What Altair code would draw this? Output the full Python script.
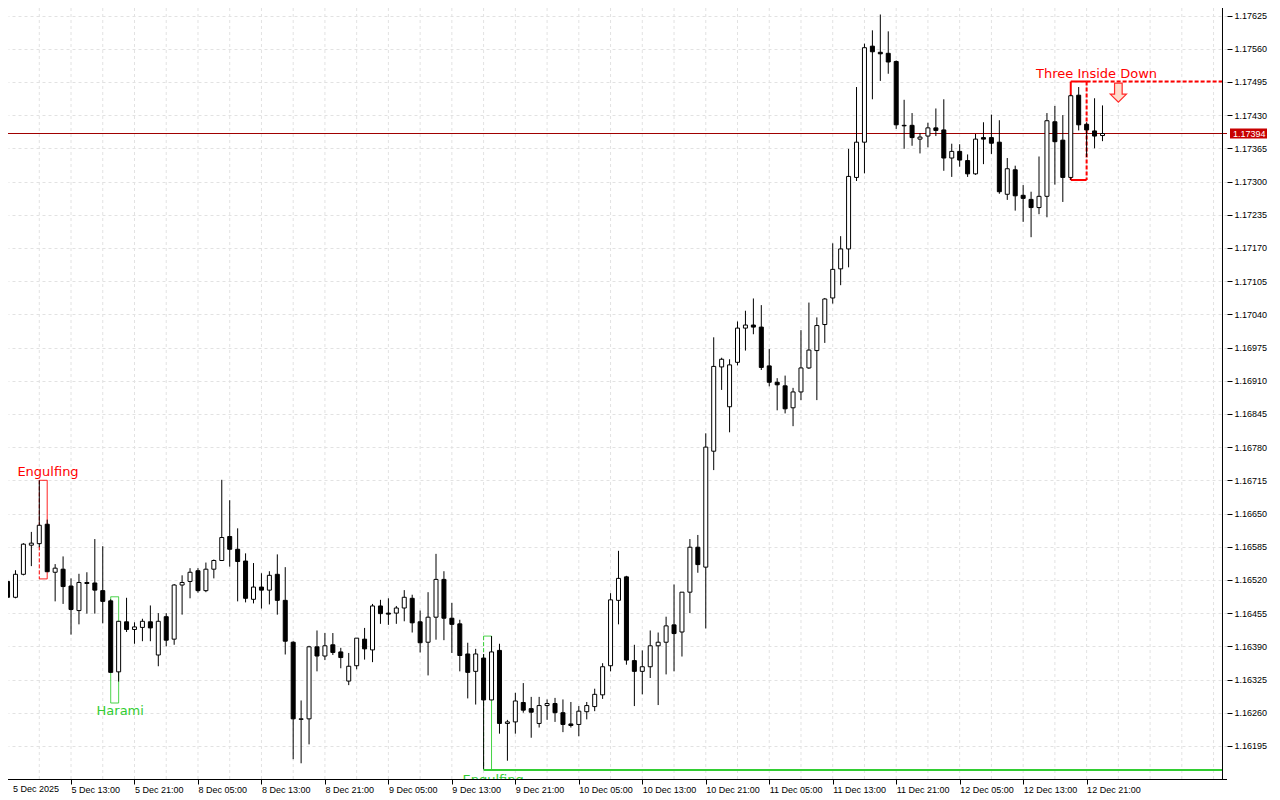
import json
import altair as alt
import pandas as pd

# ---------------- data (EURUSD H1) ----------------
opens = [1.16517, 1.16486, 1.16531, 1.16588, 1.16591, 1.16629, 1.16535, 1.16541, 1.16508, 1.16460,
         1.16515, 1.16514, 1.16499, 1.16479, 1.16340, 1.16438, 1.16423, 1.16427, 1.16438, 1.16373,
         1.16448, 1.16404, 1.16510, 1.16517, 1.16538, 1.16499, 1.16541, 1.16558, 1.16605, 1.16580,
         1.16557, 1.16482, 1.16506, 1.16500, 1.16531, 1.16480, 1.16398, 1.16247, 1.16248, 1.16389,
         1.16371, 1.16393, 1.16379, 1.16322, 1.16352, 1.16404, 1.16383, 1.16469, 1.16455, 1.16455,
         1.16465, 1.16484, 1.16438, 1.16398, 1.16447, 1.16521, 1.16445, 1.16434, 1.16375, 1.16341,
         1.16367, 1.16285, 1.16382, 1.16239, 1.16242, 1.16280, 1.16268, 1.16239, 1.16274, 1.16278,
         1.16260, 1.16238, 1.16237, 1.16262, 1.16272, 1.16295, 1.16352, 1.16480, 1.16526, 1.16362,
         1.16341, 1.16350, 1.16391, 1.16398, 1.16432, 1.16418, 1.16496, 1.16584, 1.16545, 1.16772,
         1.16937, 1.16859, 1.16946, 1.17013, 1.17019, 1.17015, 1.16939, 1.16907, 1.16900, 1.16857,
         1.16888, 1.16935, 1.16969, 1.17020, 1.17072, 1.17129, 1.17168, 1.17308, 1.17377, 1.17565,
         1.17553, 1.17551, 1.17535, 1.17410, 1.17410, 1.17383, 1.17389, 1.17405, 1.17401, 1.17346,
         1.17359, 1.17341, 1.17315, 1.17386, 1.17386, 1.17377, 1.17275, 1.17323, 1.17273, 1.17265,
         1.17249, 1.17271, 1.17417, 1.17381, 1.17308, 1.17469, 1.17412, 1.17399, 1.17390]
highs = [1.16522, 1.16539, 1.16592, 1.16614, 1.16715, 1.16638, 1.16551, 1.16566, 1.16523, 1.16532,
         1.16535, 1.16600, 1.16586, 1.16482, 1.16439, 1.16485, 1.16437, 1.16444, 1.16470, 1.16455,
         1.16455, 1.16512, 1.16529, 1.16543, 1.16543, 1.16554, 1.16560, 1.16716, 1.16676, 1.16621,
         1.16572, 1.16553, 1.16533, 1.16537, 1.16570, 1.16545, 1.16400, 1.16284, 1.16391, 1.16421,
         1.16416, 1.16416, 1.16387, 1.16377, 1.16406, 1.16426, 1.16473, 1.16481, 1.16484, 1.16469,
         1.16500, 1.16491, 1.16460, 1.16496, 1.16571, 1.16537, 1.16475, 1.16442, 1.16397, 1.16385,
         1.16375, 1.16410, 1.16395, 1.16246, 1.16299, 1.16318, 1.16291, 1.16291, 1.16286, 1.16289,
         1.16286, 1.16281, 1.16273, 1.16281, 1.16307, 1.16357, 1.16494, 1.16577, 1.16528, 1.16393,
         1.16382, 1.16421, 1.16417, 1.16448, 1.16511, 1.16496, 1.16600, 1.16608, 1.16807, 1.16995,
         1.16955, 1.16952, 1.17026, 1.17047, 1.17071, 1.17058, 1.16972, 1.16915, 1.16920, 1.16896,
         1.17009, 1.17063, 1.17034, 1.17072, 1.17179, 1.17193, 1.17364, 1.17485, 1.17570, 1.17596,
         1.17627, 1.17594, 1.17537, 1.17460, 1.17434, 1.17395, 1.17415, 1.17443, 1.17461, 1.17374,
         1.17373, 1.17353, 1.17393, 1.17416, 1.17431, 1.17420, 1.17346, 1.17331, 1.17293, 1.17280,
         1.17349, 1.17434, 1.17448, 1.17430, 1.17470, 1.17485, 1.17416, 1.17463, 1.17449]
lows = [1.16484, 1.16484, 1.16529, 1.16547, 1.16584, 1.16536, 1.16478, 1.16473, 1.16413, 1.16433,
        1.16454, 1.16454, 1.16435, 1.16339, 1.16321, 1.16418, 1.16395, 1.16400, 1.16400, 1.16351,
        1.16390, 1.16393, 1.16452, 1.16484, 1.16495, 1.16496, 1.16523, 1.16557, 1.16546, 1.16478,
        1.16476, 1.16474, 1.16464, 1.16472, 1.16452, 1.16374, 1.16169, 1.16161, 1.16198, 1.16341,
        1.16363, 1.16373, 1.16347, 1.16314, 1.16345, 1.16364, 1.16359, 1.16434, 1.16432, 1.16434,
        1.16439, 1.16417, 1.16378, 1.16333, 1.16403, 1.16402, 1.16377, 1.16341, 1.16288, 1.16276,
        1.16150, 1.16285, 1.16219, 1.16166, 1.16219, 1.16260, 1.16211, 1.16231, 1.16246, 1.16242,
        1.16222, 1.16231, 1.16214, 1.16247, 1.16263, 1.16287, 1.16341, 1.16433, 1.16354, 1.16273,
        1.16296, 1.16328, 1.16275, 1.16335, 1.16341, 1.16370, 1.16455, 1.16534, 1.16425, 1.16735,
        1.16892, 1.16809, 1.16940, 1.16969, 1.17001, 1.16931, 1.16899, 1.16852, 1.16846, 1.16821,
        1.16872, 1.16933, 1.16872, 1.16984, 1.17061, 1.17097, 1.17132, 1.17301, 1.17316, 1.17461,
        1.17497, 1.17511, 1.17403, 1.17364, 1.17370, 1.17355, 1.17367, 1.17389, 1.17321, 1.17309,
        1.17329, 1.17309, 1.17313, 1.17334, 1.17354, 1.17276, 1.17264, 1.17243, 1.17221, 1.17191,
        1.17236, 1.17230, 1.17294, 1.17260, 1.17303, 1.17400, 1.17348, 1.17365, 1.17379]
closes = [1.16486, 1.16531, 1.16590, 1.16592, 1.16627, 1.16536, 1.16543, 1.16507, 1.16462, 1.16515,
          1.16513, 1.16500, 1.16478, 1.16339, 1.16439, 1.16423, 1.16428, 1.16439, 1.16426, 1.16439,
          1.16402, 1.16510, 1.16515, 1.16535, 1.16499, 1.16541, 1.16558, 1.16603, 1.16580, 1.16556,
          1.16484, 1.16506, 1.16500, 1.16529, 1.16480, 1.16400, 1.16248, 1.16248, 1.16389, 1.16371,
          1.16391, 1.16378, 1.16368, 1.16351, 1.16406, 1.16385, 1.16469, 1.16454, 1.16453, 1.16465,
          1.16486, 1.16436, 1.16397, 1.16447, 1.16521, 1.16445, 1.16433, 1.16372, 1.16339, 1.16375,
          1.16285, 1.16379, 1.16239, 1.16242, 1.16283, 1.16265, 1.16261, 1.16274, 1.16278, 1.16260,
          1.16237, 1.16235, 1.16263, 1.16274, 1.16296, 1.16350, 1.16481, 1.16523, 1.16363, 1.16341,
          1.16350, 1.16391, 1.16398, 1.16430, 1.16415, 1.16496, 1.16584, 1.16550, 1.16780, 1.16938,
          1.16952, 1.16941, 1.17013, 1.17019, 1.17015, 1.16936, 1.16907, 1.16902, 1.16855, 1.16888,
          1.16935, 1.16970, 1.17018, 1.17070, 1.17128, 1.17168, 1.17310, 1.17377, 1.17562, 1.17554,
          1.17550, 1.17534, 1.17411, 1.17409, 1.17386, 1.17387, 1.17405, 1.17400, 1.17346, 1.17359,
          1.17342, 1.17315, 1.17383, 1.17383, 1.17375, 1.17280, 1.17325, 1.17272, 1.17267, 1.17249,
          1.17271, 1.17419, 1.17378, 1.17308, 1.17468, 1.17411, 1.17401, 1.17389, 1.17394]

time_labels = ["5 Dec 2025", "5 Dec 13:00", "5 Dec 21:00", "8 Dec 05:00", "8 Dec 13:00",
               "8 Dec 21:00", "9 Dec 05:00", "9 Dec 13:00", "9 Dec 21:00", "10 Dec 05:00",
               "10 Dec 13:00", "10 Dec 21:00", "11 Dec 05:00", "11 Dec 13:00", "11 Dec 21:00",
               "12 Dec 05:00", "12 Dec 13:00", "12 Dec 21:00"]
time_tick_bars = [0, 8, 16, 24, 32, 40, 48, 56, 64, 72, 80, 88, 96, 104, 112, 120, 128, 136]
grid_bars = [4, 8, 12, 16, 20, 24, 28, 32, 36, 40, 44, 48, 52, 56, 60, 64, 68, 72, 76, 80,
             84, 88, 92, 96, 100, 104, 108, 112, 116, 120, 124, 128, 132, 136, 140, 144, 148, 152]
price_ticks = [1.16195, 1.16260, 1.16325, 1.16390, 1.16455, 1.16520, 1.16585, 1.16650,
               1.16715, 1.16780, 1.16845, 1.16910, 1.16975, 1.17040, 1.17105, 1.17170,
               1.17235, 1.17300, 1.17365, 1.17430, 1.17495, 1.17560, 1.17625]
last_price = 1.17394

# pattern annotations (bar index / price)
pat_names = ["Engulfing", "Harami", "Engulfing", "Three Inside Down"]
pat_colors = ["#ff0000", "#32cd32", "#32cd32", "#ff0000"]
pat_text_bar = [5.1, 14.2, 61.2, 137.25]
pat_text_price = [1.16723, 1.16256, 1.16121, 1.17503]

# ---------------- layout ----------------
W, H = 1219, 771
X_MIN = 0.6875            # bar index at the left edge of the plot
X_MAX = X_MIN + W / 8     # 8 px per hourly bar
Y_MAX = 1.1763971
Y_MIN = 1.1613023

RED, GREEN = "#ff0000", "#32cd32"
seg_rows = [
    # x1, x2, y1, y2, color, dash, width
    (4, 5, 1.16715, 1.16715, RED, "solid", 1),
    (4, 5, 1.16522, 1.16522, RED, "solid", 1),
    (4, 4, 1.16715, 1.16522, RED, "dash", 1),
    (5, 5, 1.16715, 1.16522, RED, "solid", 1),
    (13, 14, 1.16487, 1.16487, GREEN, "solid", 1),
    (13, 14, 1.16279, 1.16279, GREEN, "solid", 1),
    (13, 13, 1.16487, 1.16279, GREEN, "solid", 1),
    (14, 14, 1.16487, 1.16279, GREEN, "solid", 1),
    (60, 61, 1.16410, 1.16410, GREEN, "solid", 1),
    (60, 60, 1.16410, 1.16148, GREEN, "dash", 1),
    (61, 61, 1.16410, 1.16148, GREEN, "solid", 1),
    (60, X_MAX, 1.16148, 1.16148, GREEN, "solid", 2),
    (134, 136, 1.17496, 1.17496, RED, "solid", 2),
    (136, X_MAX, 1.17496, 1.17496, RED, "dash", 2),
    (134, 134, 1.17496, 1.17303, RED, "solid", 2),
    (136, 136, 1.17496, 1.17303, RED, "dash", 2),
    (134, 136, 1.17303, 1.17303, RED, "solid", 2),
]
seg_df = pd.DataFrame(seg_rows, columns=["x1", "x2", "y1", "y2", "color", "dash", "width"])

df = pd.DataFrame({"k": list(range(len(opens))), "open": opens, "high": highs,
                   "low": lows, "close": closes})
df["dir"] = ["up" if c >= o else "down" for o, c in zip(opens, closes)]

xscale = alt.Scale(domain=[X_MIN, X_MAX], nice=False, zero=False)
yscale = alt.Scale(domain=[Y_MIN, Y_MAX], nice=False, zero=False)

FONT = "Liberation Sans"
label_expr = json.dumps(time_labels) + "[round(datum.value / 8)]"
xaxis = alt.Axis(values=time_tick_bars[1:], labelExpr=label_expr, grid=False, domain=False,
                 ticks=True, tickSize=5, tickColor="black", labelAlign="left",
                 labelBaseline="top", labelPadding=1, labelFont=FONT,
                 labelFontSize=9, labelColor="black", labelFlush=False, labelOverlap=False,
                 title=None)
yaxis = alt.Axis(orient="right", values=price_ticks, format=".5f", grid=True,
                 gridColor="#e2e2e2", gridDash=[3, 3], gridWidth=1, domain=False,
                 tickSize=5, tickColor="black", labelPadding=2, labelFont=FONT,
                 labelFontSize=9, labelColor="black", labelOverlap=False, labelFlush=False,
                 title=None)

X = lambda f: alt.X(f, scale=xscale, axis=xaxis)
Y = lambda f: alt.Y(f, scale=yscale, axis=yaxis)

vgrid = alt.Chart(pd.DataFrame({"k": grid_bars})).mark_rule(
    color="#e2e2e2", strokeDash=[3, 3], strokeWidth=1, clip=True).encode(x=X("k:Q"))

segs = alt.Chart(seg_df).mark_rule(clip=True, strokeCap="butt").encode(
    x=X("x1:Q"), x2="x2:Q", y=Y("y1:Q"), y2="y2:Q",
    color=alt.Color("color:N", scale=None),
    strokeDash=alt.StrokeDash("dash:N", scale=alt.Scale(domain=["solid", "dash"],
                                                        range=[[1, 0], [4, 2]]), legend=None),
    strokeWidth=alt.StrokeWidth("width:Q", scale=None))

pline = alt.Chart(pd.DataFrame({"p": [last_price]})).mark_rule(
    color="#a00000", strokeWidth=1).encode(y=Y("p:Q"))

base = alt.Chart(df)
wicks = base.mark_rule(color="black", strokeWidth=1, clip=True).encode(
    x=X("k:Q"), y=Y("low:Q"), y2="high:Q")
bodies = base.mark_bar(width=4, stroke="black", strokeWidth=1, clip=True).encode(
    x=X("k:Q"), y=Y("open:Q"), y2="close:Q",
    fill=alt.Fill("dir:N", scale=alt.Scale(domain=["up", "down"], range=["white", "black"]),
                  legend=None))

ARROW = "M -0.4 -1 L 0.4 -1 L 0.4 0.15 L 0.85 0.15 L 0 1 L -0.85 0.15 L -0.4 0.15 Z"
arrow = alt.Chart(pd.DataFrame({"k": [140.0], "p": [1.17474]})).mark_point(
    shape=ARROW, size=361, filled=True, fill="#ffdccc", stroke="#ff2a2a",
    strokeWidth=1.2, opacity=1).encode(x=X("k:Q"), y=Y("p:Q"))

txt_df = pd.DataFrame({"name": pat_names, "color": pat_colors,
                       "k": pat_text_bar, "p": pat_text_price})
texts = alt.Chart(txt_df).mark_text(font="DejaVu Sans", fontSize=13, align="center",
                                     baseline="alphabetic", clip=True).encode(
    x=X("k:Q"), y=Y("p:Q"), text="name:N", color=alt.Color("color:N", scale=None))

# right and bottom frame of the price pane
frame_r = alt.Chart(pd.DataFrame({"k": [X_MAX + 0.0625]})).mark_rule(
    color="black", strokeWidth=1).encode(x=X("k:Q"))
frame_b = alt.Chart(pd.DataFrame({"p": [Y_MIN - 0.00001]})).mark_rule(
    color="black", strokeWidth=1).encode(y=Y("p:Q"))

# first time label (the bar sits at the very left edge of the pane)
first_lbl = alt.Chart(pd.DataFrame({"k": [X_MIN], "p": [Y_MIN], "t": [time_labels[0]]})).mark_text(
    align="left", baseline="top", dy=6, font=FONT, fontSize=9, color="black", clip=False).encode(
    x=X("k:Q"), y=Y("p:Q"), text="t:N")

tag_df = pd.DataFrame({"p": [last_price], "label": [f"{last_price:.5f}"]})
tag_box = alt.Chart(tag_df).mark_rule(color="#c80000", strokeWidth=10, strokeCap="butt",
                                      clip=False).encode(
    y=Y("p:Q"), x=alt.value(W + 3), x2=alt.value(W + 40))
tag_txt = alt.Chart(tag_df).mark_text(align="left", baseline="middle", font=FONT,
                                      fontSize=9, color="white", clip=False).encode(
    y=Y("p:Q"), x=alt.value(W + 6), text="label:N")

chart = alt.layer(vgrid, segs, pline, wicks, bodies, arrow, texts, frame_r, frame_b,
                  first_lbl, tag_box, tag_txt).properties(
    width=W, height=H,
    padding={"left": 0, "top": 0, "right": 45, "bottom": 16},
    autosize=alt.AutoSizeParams(type="none"),
    background="white",
).configure_view(strokeWidth=0)

chart.save("out.html", embed_options={"renderer": "svg", "actions": False})
